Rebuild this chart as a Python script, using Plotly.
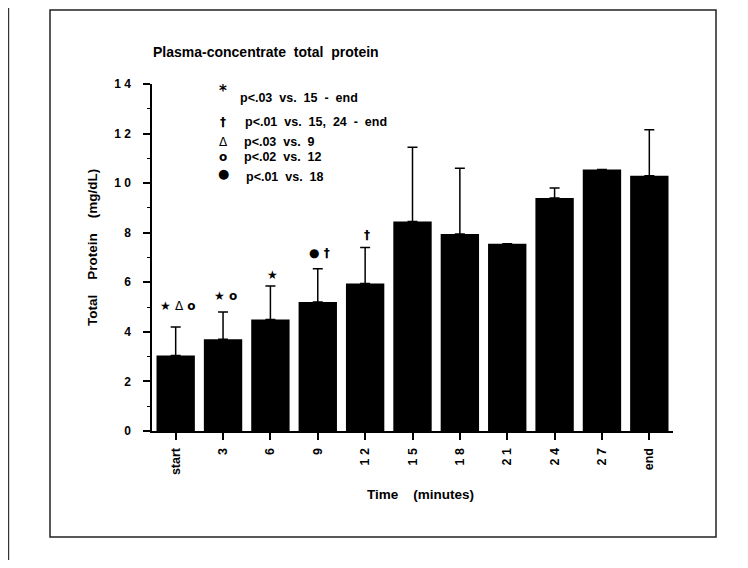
import plotly.graph_objects as go

# ---- data ----
categories = ["start", "3", "6", "9", "12", "15", "18", "21", "24", "27", "end"]
tick_labels = ["start", "3", "6", "9", "1 2", "1 5", "1 8", "2 1", "2 4", "2 7", "end"]
protein_mean = [3.05, 3.7, 4.5, 5.2, 5.95, 8.45, 7.95, 7.55, 9.4, 10.55, 10.3]
protein_sd = [1.15, 1.1, 1.35, 1.35, 1.45, 3.0, 2.65, 0, 0.4, 0, 1.85]
sig_marks = ["★ Δ o", "★ o", "★", "● †", "†", "", "", "", "", "", ""]
y_tick_vals = [0, 2, 4, 6, 8, 10, 12, 14]
y_tick_text = ["0", "2", "4", "6", "8", "1 0", "1 2", "1 4"]
legend_symbols = ["*", "†", "Δ", "o", "●"]
legend_texts = ["p<.03  vs.  15  -  end", "p<.01  vs.  15,  24  -  end",
                "p<.03  vs.  9", "p<.02  vs.  12", "p<.01  vs.  18"]

# ---- geometry (window pixels; the page body adds an 8px margin) ----
OFF = 8
W, H = 748 - 2 * OFF, 568 - 2 * OFF
L, R, T, B = 152, 673, 84, 431  # plot area in window pixels

def px(x):
    return (x - L) / (R - L)

def py(y):
    return (B - y) / (B - T)

FONT = "Liberation Sans, Arial, sans-serif"
SYMF = "DejaVu Sans, Liberation Sans, sans-serif"
def bold(size):
    return dict(family=FONT, size=size, color="black", weight="bold")

fig = go.Figure()
fig.add_trace(go.Bar(
    x=list(range(len(categories))), y=protein_mean, width=0.81,
    marker=dict(color="black", line=dict(width=0)),
    error_y=dict(type="data", array=protein_sd, arrayminus=[0] * len(protein_sd),
                 symmetric=False, color="black", thickness=1.5, width=5, visible=True),
    showlegend=False,
))

annotations = []
mark_shift = [21, 16, 11, 16, 13]
for i, (m, s, t) in enumerate(zip(protein_mean, protein_sd, sig_marks)):
    if t:
        annotations.append(dict(
            x=i, y=m + s, xref="x", yref="y",
            text=t.replace("Δ", '<span style="font-weight:normal">Δ</span>'),
            showarrow=False, yanchor="middle", yshift=mark_shift[i], xshift=2,
            font=dict(family=SYMF, size=12, color="black", weight="bold"),
        ))

# key of significance symbols
sym_y = [91, 122, 142, 157, 173]
txt_y = [98, 122, 142, 157, 177]
txt_x = [238, 243, 242, 242, 244]
for s, txt, ys, yt, xt in zip(legend_symbols, legend_texts, sym_y, txt_y, txt_x):
    annotations.append(dict(
        x=px(223), y=py(ys), xref="paper", yref="paper", text=s, showarrow=False,
        xanchor="center", yanchor="middle",
        font=dict(family=SYMF, size=15 if s == "*" else (13 if s == "●" else 12), color="black",
                  weight="normal" if s == "Δ" else "bold"),
    ))
    annotations.append(dict(
        x=px(xt), y=py(yt), xref="paper", yref="paper", text=txt, showarrow=False,
        xanchor="left", yanchor="middle", font=bold(12.5),
    ))

# title
annotations.append(dict(
    x=px(151), y=py(52), xref="paper", yref="paper",
    text="Plasma-concentrate  total  protein", showarrow=False,
    xanchor="left", yanchor="middle", font=bold(14),
))
# axis titles
annotations.append(dict(
    x=px(92), y=py(248), xref="paper", yref="paper",
    text="Total    Protein    (mg/dL)", showarrow=False, textangle=-90,
    xanchor="center", yanchor="middle", font=bold(13.5),
))
annotations.append(dict(
    x=px(420), y=py(495), xref="paper", yref="paper",
    text="Time    (minutes)", showarrow=False,
    xanchor="center", yanchor="middle", font=bold(13.5),
))

shapes = [
    dict(type="rect", xref="paper", yref="paper", x0=px(50), x1=px(716), y0=py(537), y1=py(10),
         line=dict(color="#222", width=1.5), fillcolor="rgba(0,0,0,0)", layer="below"),
    dict(type="line", xref="paper", yref="paper", x0=px(8.6), x1=px(8.6), y0=py(568), y1=py(0),
         line=dict(color="#333", width=1.2)),
]

fig.update_layout(
    width=W, height=H,
    margin=dict(l=L - OFF, r=W - (R - OFF), t=T - OFF, b=H - (B - OFF), pad=0),
    paper_bgcolor="white", plot_bgcolor="white",
    annotations=annotations, shapes=shapes,
    font=bold(12),
)
fig.update_xaxes(
    tickmode="array", tickvals=list(range(len(categories))), ticktext=tick_labels, tickangle=-90,
    showline=True, linecolor="black", linewidth=2,
    ticks="outside", ticklen=7, tickwidth=1.5, tickcolor="black",
    showgrid=False, zeroline=False, tickfont=bold(12.5), range=[-0.5, 10.5],
    ticklabelstandoff=3,
)
fig.update_yaxes(
    range=[0, 14], tickmode="array", tickvals=y_tick_vals, ticktext=y_tick_text,
    showline=True, linecolor="black", linewidth=1.5,
    ticks="outside", ticklen=7, tickwidth=1.5, tickcolor="black",
    minor=dict(tickvals=[1, 3, 5, 7, 9, 11, 13], ticks="outside", ticklen=3, tickwidth=1.2, tickcolor="black"),
    showgrid=False, zeroline=False, tickfont=bold(12), ticklabelstandoff=10,
)

fig.write_html("out.html")
